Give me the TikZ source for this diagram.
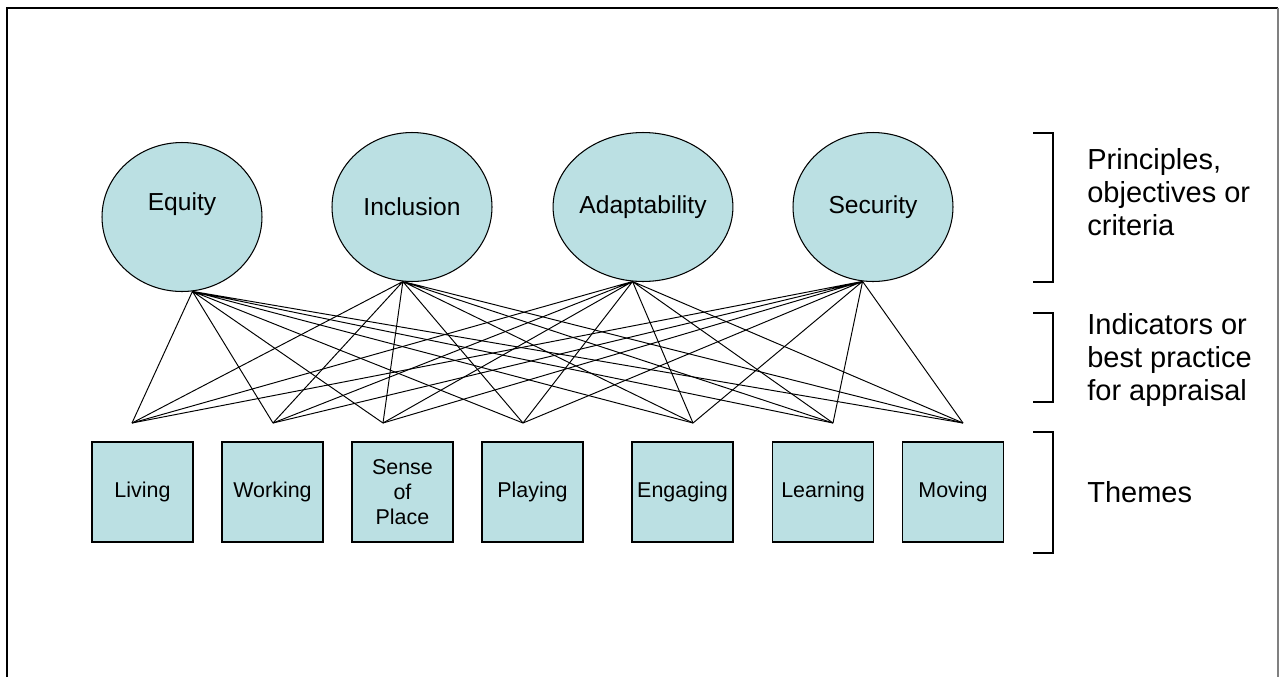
\documentclass[tikz,border=0pt]{standalone}
\usepackage{fontspec}
\setmainfont{Liberation Sans}
\usepackage{tikz}
\usetikzlibrary{shapes.geometric}
\definecolor{paleblue}{RGB}{187,224,227}
\tikzset{
    principle/.style={ellipse,draw,fill=paleblue,line width=0.6pt,
        minimum width=3.2cm,minimum height=2.98cm,inner sep=0pt,
        font=\fontsize{14}{17}\selectfont},
    theme/.style={rectangle,draw,fill=paleblue,line width=0.6pt,
        minimum width=2.02cm,minimum height=2cm,inner sep=0pt,align=center,
        font=\fontsize{12.2}{14.2}\selectfont},
    level/.style={anchor=west,align=left,inner sep=0pt,
        font=\fontsize{16.5}{18.8}\selectfont},
    link/.style={line width=0.55pt},
    bracket/.style={line width=0.6pt}
}

\begin{document}
\begin{tikzpicture}[x=0.02cm,y=-0.02cm]
\useasboundingbox (0,0) rectangle (1279,677);
%\draw [help lines,step=50](0,0) grid (1279,677);
\draw [line width=1.1pt] (7,677) -- (7,8) -- (1278,8);
\draw [gray,line width=0.6pt] (1278,8) -- (1278,677);
% principles
\node [principle,label={[yshift=0.26cm,font=\fontsize{14}{17}\selectfont]center:Equity}] (eq) at (182,217) {};
\node [principle] (inc) at (412,207) {Inclusion};
\node [principle] (ada) at (643,207) {Adaptability};
\node [principle] (sec) at (873,207) {Security};
% indicators
\coordinate (p1) at (132,423);
\coordinate (p2) at (273,423);
\coordinate (p3) at (383,423);
\coordinate (p4) at (523,423);
\coordinate (p5) at (693,423);
\coordinate (p6) at (833,423);
\coordinate (p7) at (963,423);
\draw [link] (eq.-82) -- (p1) (eq.-82) -- (p2) (eq.-82) -- (p3) (eq.-82) -- (p4)
    (eq.-82) -- (p5) (eq.-82) -- (p6) (eq.-82) -- (p7);
\draw [link] (inc.-97) -- (p1) (inc.-97) -- (p2) (inc.-97) -- (p3) (inc.-97) -- (p4)
    (inc.-97) -- (p5) (inc.-97) -- (p6) (inc.-97) -- (p7);
\draw [link] (ada.-98) -- (p1) (ada.-98) -- (p2) (ada.-98) -- (p3) (ada.-98) -- (p4)
    (ada.-98) -- (p5) (ada.-98) -- (p6) (ada.-98) -- (p7);
\draw [link] (sec.-98) -- (p1) (sec.-98) -- (p2) (sec.-98) -- (p3) (sec.-98) -- (p4)
    (sec.-98) -- (p5) (sec.-98) -- (p6) (sec.-98) -- (p7);
% themes
\node [theme] (liv) at (142.5,492) {Living};
\node [theme] (wor) at (272.5,492) {Working};
\node [theme] (sen) at (402.5,492) {Sense\\of\\Place};
\node [theme] (pla) at (532.5,492) {Playing};
\node [theme] (eng) at (682.5,492) {Engaging};
\node [theme] (lea) at (823,492) {Learning};
\node [theme] (mov) at (953,492) {Moving};
% levels
\draw [bracket] (1033,133) -- (1053,133) -- (1053,282) -- (1033,282);
\draw [bracket] (1033,313) -- (1053,313) -- (1053,402) -- (1033,402);
\draw [bracket] (1033,432) -- (1053,432) -- (1053,553) -- (1033,553);
\node [level] (lpr) at (1087,192) {Principles,\\objectives or\\criteria};
\node [level] (lin) at (1087,360) {Indicators or\\best practice\\for appraisal};
\node [level] (lth) at (1087,492) {Themes};
\end{tikzpicture}
\end{document}
